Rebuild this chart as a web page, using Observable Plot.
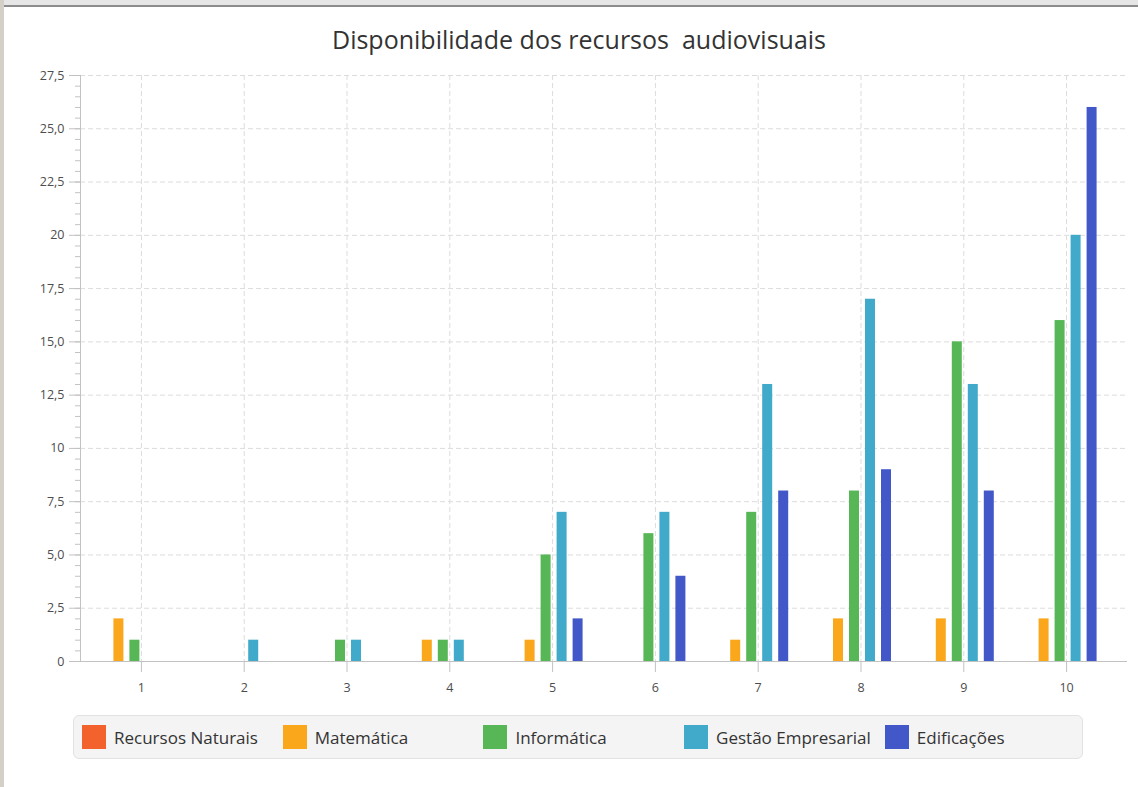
<!DOCTYPE html>
<html>
<head>
<meta charset="utf-8">
<script src="https://cdn.jsdelivr.net/npm/d3@7"></script>
<script src="https://cdn.jsdelivr.net/npm/@observablehq/plot@0.6"></script>
<style>
  html, body { margin: 0; padding: 0; background: #ffffff; }
  body { width: 1138px; height: 787px; position: relative; overflow: hidden; font-family: "Open Sans", sans-serif; }
  #chrome-top { position: absolute; left: 0; top: 0; width: 1138px; height: 5px; background: #e6e6e6; }
  #chrome-line { position: absolute; left: 4px; top: 5px; width: 1134px; height: 2px; background: #8c8c8c; }
  #chrome-left { position: absolute; left: 0; top: 0; width: 4px; height: 787px; background: #d4d0c8; }
  #title { position: absolute; left: 0; top: 23px; width: 1158px; text-align: center; font-size: 25px; line-height: 32px; color: #333333; white-space: pre; }
  #chart { position: absolute; left: 0; top: 60px; }
  #legend { position: absolute; left: 73px; top: 715px; width: 1010px; height: 44px; box-sizing: border-box;
            background: #f4f4f4; border: 1px solid #e2e2e2; border-radius: 6px; }
  .item { position: absolute; top: 9px; height: 24px; display: flex; align-items: center; white-space: nowrap; }
  .sw { width: 24px; height: 24px; margin-right: 8px; box-sizing: border-box; }
  .lb { font-size: 17px; color: #333333; }
</style>
</head>
<body>
<div id="chrome-top"></div>
<div id="chrome-line"></div>
<div id="chrome-left"></div>
<div id="title"></div>
<div id="chart"></div>
<div id="legend"></div>
<script>
const titleText = "Disponibilidade dos recursos  audiovisuais";
const categories = ["1", "2", "3", "4", "5", "6", "7", "8", "9", "10"];
const seriesNames = ["Recursos Naturais", "Matemática", "Informática", "Gestão Empresarial", "Edificações"];
const seriesColors = ["#f3622d", "#fba71b", "#57b757", "#41a9c9", "#4258c9"];
const recursosNaturais = [0, 0, 0, 0, 0, 0, 0, 0, 0, 0];
const matematica = [2, 0, 0, 1, 1, 0, 1, 2, 2, 2];
const informatica = [1, 0, 1, 1, 5, 6, 7, 8, 15, 16];
const gestaoEmpresarial = [0, 1, 1, 1, 7, 7, 13, 17, 13, 20];
const edificacoes = [0, 0, 0, 0, 2, 4, 8, 9, 8, 26];
const yTicks = [0, 2.5, 5, 7.5, 10, 12.5, 15, 17.5, 20, 22.5, 25, 27.5];
const yTickLabels = ["0", "2,5", "5,0", "7,5", "10", "12,5", "15,0", "17,5", "20", "22,5", "25,0", "27,5"];

const seriesValues = [recursosNaturais, matematica, informatica, gestaoEmpresarial, edificacoes];
const rows = [];
seriesNames.forEach((s, si) => {
  categories.forEach((c, ci) => rows.push({cat: c, series: s, value: seriesValues[si][ci]}));
});
const minorTicks = d3.range(0, 27.5001, 0.5);

document.getElementById("title").textContent = titleText;

const axisGrey = "#c2c2c2";
const gridGrey = "#dcdcdc";

const plot = Plot.plot({
  width: 1138,
  height: 646,
  marginTop: 15,
  marginBottom: 45,
  marginLeft: 80,
  marginRight: 11,
  style: {fontFamily: "Open Sans", fontSize: "12.5px", color: "#4d4d4d", background: "transparent", overflow: "visible"},
  x: {domain: categories, paddingInner: 0, paddingOuter: 0.0925, round: false, label: null},
  y: {domain: [0, 27.5], label: null},
  color: {domain: seriesNames, range: seriesColors},
  marks: [
    Plot.gridY(yTicks.filter(d => d > 0), {stroke: gridGrey, strokeOpacity: 1, strokeDasharray: "5,3"}),
    Plot.gridX({stroke: gridGrey, strokeOpacity: 1, strokeDasharray: "5,3"}),
    ...seriesNames.map((name, i) =>
      Plot.barY(rows.filter(r => r.series === name), {
        x: "cat", y: "value", fill: "series",
        insetLeft: 46.4, insetRight: 46.4, dx: (i - 2.5) * 16 + 1.5
      })
    ),
    Plot.ruleY([0], {stroke: axisGrey}),
    Plot.frame({anchor: "left", stroke: axisGrey}),
    Plot.axisY(minorTicks, {tickSize: 5, tickFormat: () => "", stroke: axisGrey}),
    Plot.axisY(yTicks, {tickSize: 11, tickPadding: 5, stroke: axisGrey, fill: "#4d4d4d",
      tickFormat: d => yTickLabels[yTicks.indexOf(d)]}),
    Plot.axisX({tickSize: 11, tickPadding: 11, stroke: axisGrey, fill: "#4d4d4d"})
  ]
});
document.getElementById("chart").appendChild(plot);

const color = plot.scale("color");
const legend = document.getElementById("legend");
seriesNames.forEach((name, i) => {
  const item = document.createElement("div");
  item.className = "item";
  item.style.left = (8 + i * 200.7) + "px";
  const sw = document.createElement("div");
  sw.className = "sw";
  sw.style.background = color.apply(name);
  const lb = document.createElement("span");
  lb.className = "lb";
  lb.textContent = name;
  item.appendChild(sw);
  item.appendChild(lb);
  legend.appendChild(item);
});
</script>
</body>
</html>
